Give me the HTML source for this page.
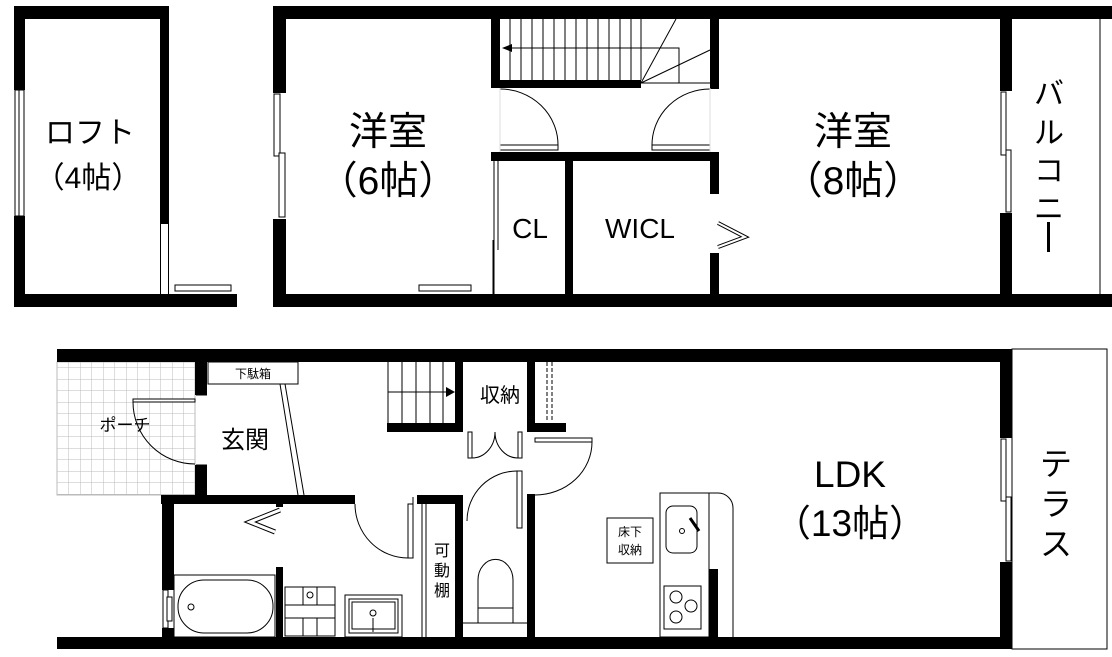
<!DOCTYPE html>
<html><head><meta charset="utf-8"><style>
html,body{margin:0;padding:0;background:#fff;}
svg{display:block;}
text{font-family:"Liberation Sans","Noto Sans CJK JP",sans-serif;fill:#000;}
</style></head><body>
<svg width="1112" height="657" viewBox="0 0 1112 657" xmlns="http://www.w3.org/2000/svg">
<defs>
<pattern id="tile" width="11.5" height="11.5" patternUnits="userSpaceOnUse">
<path d="M11.5 0V11.5H0" fill="none" stroke="#bbb" stroke-width="1"/>
</pattern>
</defs>
<g fill="#000">
<!-- LOFT -->
<rect x="14" y="6" width="155" height="13"/>
<rect x="14" y="6" width="11" height="84"/>
<rect x="14" y="216" width="11" height="91"/>
<rect x="160" y="6" width="9" height="218"/>
<rect x="14" y="294" width="223" height="13"/>
</g>
<g fill="#fff" stroke="#000" stroke-width="1">
<rect x="15" y="90" width="9" height="126"/>
<line x1="19" y1="90" x2="19" y2="216"/>
<rect x="175" y="285" width="56" height="6"/>
</g>
<line x1="160.5" y1="224" x2="160.5" y2="294" stroke="#000"/>
<line x1="168.5" y1="224" x2="168.5" y2="294" stroke="#000"/>

<!-- UPPER MAIN -->
<g fill="#000">
<rect x="273" y="6" width="839" height="13"/>
<rect x="273" y="294" width="839" height="13"/>
<rect x="273" y="6" width="13" height="87"/>
<rect x="273" y="219" width="13" height="88"/>
<rect x="491" y="19" width="9" height="69"/>
<rect x="491" y="80" width="150" height="8"/>
<rect x="710" y="19" width="9" height="70"/>
<rect x="710" y="152" width="9" height="42"/>
<rect x="710" y="253" width="9" height="54"/>
<rect x="491" y="152" width="228" height="9"/>
<rect x="565" y="161" width="8" height="134"/>
<rect x="1000" y="6" width="12" height="85"/>
<rect x="1000" y="213" width="12" height="94"/>
</g>
<g fill="#fff" stroke="#000" stroke-width="1">
<rect x="274" y="94" width="6" height="62"/>
<rect x="279" y="153" width="6" height="64"/>
<rect x="419" y="285" width="52" height="6"/>
<rect x="1001" y="92" width="5" height="63"/>
<rect x="1006" y="150" width="5" height="62"/>
</g>
<!-- stairs upper -->
<g stroke="#000" stroke-width="1" fill="none">
<line x1="510" y1="19" x2="510" y2="80"/><line x1="521" y1="19" x2="521" y2="80"/>
<line x1="532" y1="19" x2="532" y2="80"/><line x1="543" y1="19" x2="543" y2="80"/>
<line x1="554" y1="19" x2="554" y2="80"/><line x1="565" y1="19" x2="565" y2="80"/>
<line x1="576" y1="19" x2="576" y2="80"/><line x1="587" y1="19" x2="587" y2="80"/>
<line x1="598" y1="19" x2="598" y2="80"/><line x1="609" y1="19" x2="609" y2="80"/>
<line x1="620" y1="19" x2="620" y2="80"/><line x1="631" y1="19" x2="631" y2="80"/>
<line x1="641" y1="19" x2="641" y2="80"/>
<polyline points="679,83 679,48 510,48"/>
<line x1="641" y1="83" x2="676" y2="19"/>
<line x1="641" y1="83" x2="710" y2="50"/>
<line x1="641" y1="83" x2="710" y2="83"/>
<rect x="500" y="145" width="58" height="5" fill="#fff"/>
<path d="M558 145 A58 56 0 0 0 500 89"/>
<rect x="652" y="145" width="58" height="5" fill="#fff"/>
<path d="M652 145 A58 56 0 0 1 710 89"/>
<line x1="494" y1="161" x2="494" y2="294"/>
<line x1="498" y1="161" x2="498" y2="250"/>
<line x1="493" y1="240" x2="493" y2="294"/>
<polyline points="718,223 745,237 718,247" stroke-width="4"/>
<polyline points="718,223 745,237 718,247" stroke="#fff" stroke-width="2"/>
<line x1="1100" y1="19" x2="1100" y2="294"/>
</g>
<polygon points="502,48 512,44 512,52" fill="#000"/>
<line x1="500" y1="88" x2="500" y2="152" stroke="#ddd"/>
<line x1="710" y1="88" x2="710" y2="152" stroke="#ddd"/>

<text x="90" y="143" font-size="30" text-anchor="middle">ロフト</text>
<text x="88" y="188" font-size="30" text-anchor="middle">（4帖）</text>
<text x="388" y="145" font-size="39" text-anchor="middle">洋室</text>
<text x="388" y="194" font-size="39" text-anchor="middle">（6帖）</text>
<text x="530" y="238" font-size="28" text-anchor="middle">CL</text>
<text x="640" y="238" font-size="28" text-anchor="middle">WICL</text>
<text x="853" y="145" font-size="39" text-anchor="middle">洋室</text>
<text x="853" y="194" font-size="39" text-anchor="middle">（8帖）</text>
<g font-size="30" text-anchor="middle">
<text x="1049" y="104">バ</text><text x="1049" y="143">ル</text><text x="1049" y="181">コ</text><text x="1049" y="219">ニ</text>
</g>
<rect x="1047" y="222" width="3" height="30" fill="#000"/>

<!-- LOWER FLOOR -->
<rect x="57" y="362" width="138" height="133" fill="url(#tile)"/>
<rect x="57" y="362" width="138" height="133" fill="none" stroke="#bbb"/>
<g fill="#000">
<rect x="57" y="349" width="954" height="13"/>
<rect x="57" y="637" width="954" height="12"/>
<rect x="195" y="349" width="12" height="46"/>
<rect x="195" y="465" width="12" height="39"/>
<rect x="161" y="495" width="194" height="9"/>
<rect x="417" y="495" width="46" height="9"/>
<rect x="162" y="495" width="12" height="95"/>
<rect x="162" y="628" width="12" height="12"/>
<rect x="276" y="567" width="7" height="70"/>
<rect x="276" y="503" width="7" height="4"/>
<rect x="387" y="423" width="76" height="9"/>
<rect x="455" y="362" width="8" height="70"/>
<rect x="527" y="362" width="8" height="70"/>
<rect x="527" y="423" width="39" height="9"/>
<rect x="455" y="495" width="8" height="142"/>
<rect x="527" y="494" width="8" height="143"/>
<rect x="1000" y="349" width="12" height="89"/>
<rect x="1000" y="562" width="12" height="87"/>
<rect x="709" y="569" width="9" height="68"/>
</g>
<g fill="#fff" stroke="#000" stroke-width="1">
<rect x="208" y="362" width="90" height="22"/>
<rect x="163" y="590" width="5" height="38"/>
<rect x="167" y="597" width="5" height="24"/>
<rect x="1001" y="439" width="5" height="62"/>
<rect x="1006" y="497" width="5" height="64"/>
<rect x="1012" y="349" width="95" height="300"/>
</g>
<text x="253" y="378" font-size="12" text-anchor="middle">下駄箱</text>
<g stroke="#000" stroke-width="1" fill="none">
<rect x="133" y="399" width="62" height="3" fill="#fff"/>
<path d="M133 402 A62 62 0 0 0 195 464"/>
<line x1="196" y1="395" x2="207" y2="395"/><line x1="196" y1="465" x2="207" y2="465"/>
<line x1="280" y1="384" x2="298" y2="495"/>
<line x1="285" y1="384" x2="304" y2="495"/>
<line x1="388" y1="362" x2="388" y2="423"/><line x1="402" y1="362" x2="402" y2="423"/>
<line x1="416" y1="362" x2="416" y2="423"/><line x1="430" y1="362" x2="430" y2="423"/>
<line x1="443" y1="362" x2="443" y2="423"/>
<line x1="388" y1="392" x2="446" y2="392"/>
<rect x="468" y="432" width="4" height="26" fill="#fff"/>
<path d="M472 458 A23 26 0 0 0 495 432"/>
<rect x="518" y="432" width="4" height="26" fill="#fff"/>
<path d="M518 458 A23 26 0 0 1 495 432"/>
<rect x="535" y="438" width="57" height="4" fill="#fff"/>
<path d="M592 442 A57 53 0 0 1 535 495"/>
<rect x="517" y="471" width="5" height="57" fill="#fff"/>
<path d="M517 471 A50 50 0 0 0 467 521"/>
<line x1="547" y1="362" x2="547" y2="420" stroke-dasharray="4,2"/>
<line x1="552" y1="362" x2="552" y2="420" stroke-dasharray="4,2"/>
<path d="M355 504 A53 54 0 0 0 408 558"/>
<rect x="408" y="504" width="5" height="54" fill="#fff"/>
<line x1="413" y1="497" x2="413" y2="504"/>
<line x1="422" y1="504" x2="422" y2="637"/>
<line x1="426" y1="504" x2="426" y2="637"/>
<polyline points="280,510 250,522 275,532" stroke-width="5"/>
<polyline points="280,510 250,522 275,532" stroke="#fff" stroke-width="3"/>
<rect x="174" y="575" width="101" height="62"/>
<rect x="178" y="580" width="95" height="53" rx="26"/>
<circle cx="191" cy="607" r="3"/>
<rect x="285" y="587" width="50" height="49"/>
<line x1="303" y1="587" x2="303" y2="605"/><line x1="317" y1="587" x2="317" y2="605"/>
<line x1="303" y1="618" x2="303" y2="636"/><line x1="317" y1="618" x2="317" y2="636"/>
<line x1="285" y1="605" x2="335" y2="605"/><line x1="285" y1="618" x2="335" y2="618"/>
<circle cx="310" cy="595" r="3"/>
<rect x="345" y="595" width="57" height="42"/>
<rect x="349" y="599" width="49" height="34"/>
<rect x="352" y="602" width="43" height="27"/>
<circle cx="373" cy="613" r="3"/>
<line x1="373" y1="618" x2="373" y2="632"/><line x1="367" y1="629" x2="379" y2="629"/>
<path d="M478 608 V580 A17 20 0 0 1 513 580 V608"/>
<rect x="478" y="608" width="35" height="15"/>
<line x1="463" y1="623" x2="527" y2="623"/>
<rect x="660" y="493" width="49" height="144"/>
<path d="M709 493 H718 A15 15 0 0 1 733 508 V637"/>
<rect x="666" y="506" width="31" height="47" rx="7"/>
<circle cx="682" cy="531" r="2.5"/>
<line x1="690" y1="518" x2="699" y2="531" stroke-width="3"/>
<rect x="664" y="586" width="37" height="43"/>
<circle cx="676" cy="597" r="6"/><circle cx="691" cy="606" r="6"/><circle cx="676" cy="617" r="6"/>
<rect x="607" y="518" width="46" height="45"/>
</g>
<polygon points="455,392 446,387 446,397" fill="#000"/>
<text x="500" y="402" font-size="20" text-anchor="middle">収納</text>
<text x="125" y="431" font-size="17" text-anchor="middle">ポーチ</text>
<text x="245" y="448" font-size="24" text-anchor="middle">玄関</text>
<g font-size="16" text-anchor="middle">
<text x="442" y="556">可</text><text x="442" y="576">動</text><text x="442" y="596">棚</text>
</g>
<text x="630" y="536" font-size="12" text-anchor="middle">床下</text>
<text x="630" y="554" font-size="12" text-anchor="middle">収納</text>
<text x="850" y="487" font-size="37" text-anchor="middle">LDK</text>
<text x="850" y="536" font-size="37" text-anchor="middle">（13帖）</text>
<g font-size="32" text-anchor="middle">
<text x="1056" y="475">テ</text><text x="1056" y="515">ラ</text><text x="1056" y="555">ス</text>
</g>
</svg>
</body></html>
